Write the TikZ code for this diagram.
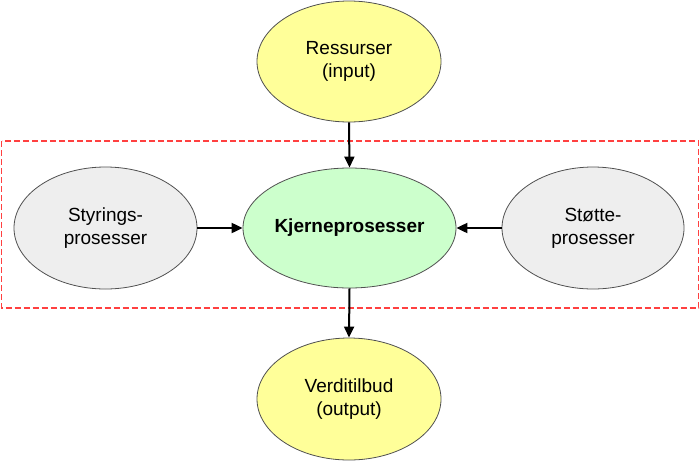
\documentclass[tikz,border=0pt]{standalone}
\usepackage{fontspec}
\setmainfont{Liberation Sans}
\usetikzlibrary{shapes.geometric,arrows.meta}
\definecolor{yel}{HTML}{FFFF99}
\definecolor{grn}{HTML}{CCFFCC}
\definecolor{gry}{HTML}{EEEEEE}
\definecolor{edgegray}{HTML}{505050}
\definecolor{framered}{HTML}{FF4040}
\tikzset{
  oval/.style={ellipse, draw=edgegray, line width=0.8pt, inner sep=0pt, align=center,
    font=\fontsize{19}{23}\selectfont},
  conn/.style={line width=2pt, -{Triangle[length=11pt,width=10pt]}},
  frame/.style={draw=framered, line width=1.2pt, dash pattern=on 6pt off 3pt}
}
\begin{document}
\begin{tikzpicture}[x=1pt,y=-1pt]
\useasboundingbox (0,0) rectangle (700,461);
\draw[frame] (1.5,141) rectangle (698.5,308);
\node[oval, fill=yel, minimum width=184pt, minimum height=121pt] (in) at (349,61.5) {Ressurser\\(input)};
\node[oval, fill=grn, minimum width=213pt, minimum height=120pt, font=\fontsize{19}{23}\selectfont\bfseries] (core) at (349.5,228) {Kjerneprosesser};
\node[oval, fill=gry, minimum width=183pt, minimum height=122pt] (sty) at (105.5,228) {Styrings-\\prosesser};
\node[oval, fill=gry, minimum width=182pt, minimum height=122pt] (sto) at (593,228) {Støtte-\\prosesser};
\node[oval, fill=yel, minimum width=184pt, minimum height=122pt] (out) at (349,399) {Verditilbud\\(output)};
\draw[conn] (in.south) -- (core.north);
\draw[conn] (sty.east) -- (core.west);
\draw[conn] (sto.west) -- (core.east);
\draw[conn] (core.south) -- (out.north);
\end{tikzpicture}
\end{document}
